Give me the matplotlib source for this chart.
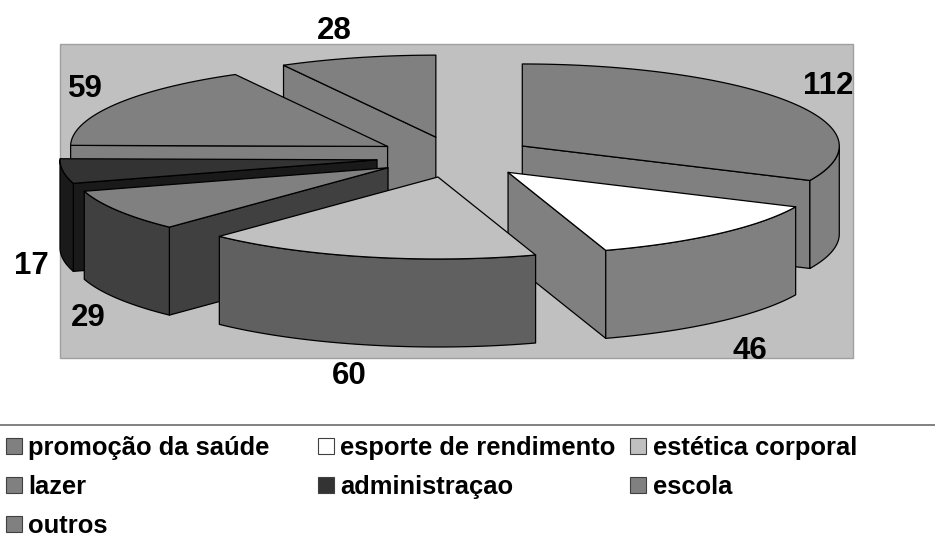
"""Exploded 3D-look pie chart with a legend below, drawn on a pixel-sized canvas."""
import numpy as np
import matplotlib
matplotlib.use("Agg")
import matplotlib.pyplot as plt
from matplotlib.patches import Polygon, Rectangle

WIDTH, HEIGHT = 935, 543

categories = ["promoção da saúde", "esporte de rendimento", "estética corporal",
              "lazer", "administraçao", "escola", "outros"]
values = [112, 46, 60, 29, 17, 59, 28]

top_colors = ["#808080", "#ffffff", "#c0c0c0", "#808080", "#333333", "#808080", "#808080"]
side_colors = ["#808080", "#808080", "#606060", "#404040", "#1a1a1a", "#808080", "#808080"]
legend_colors = ["#808080", "#ffffff", "#c0c0c0", "#808080", "#333333", "#808080", "#808080"]

# where the value labels sit, same order as values
label_pos = [(828, 86), (750, 351), (349, 376), (88, 318), (31, 266), (85, 89), (334, 31)]

# pie geometry in pixels
CX, CY = 455.5, 157
RX, RY = 317, 82
EXPLODE = 0.25
DEPTH = 88
DRAW_ORDER = [6, 5, 0, 4, 3, 1, 2]

plt.rcParams["font.family"] = ["Liberation Sans", "DejaVu Sans"]

fig = plt.figure(figsize=(WIDTH / 100, HEIGHT / 100), dpi=100, facecolor="white")
ax = fig.add_axes([0, 0, 1, 1])
ax.set_xlim(0, WIDTH)
ax.set_ylim(HEIGHT, 0)
ax.axis("off")

ax.add_patch(Rectangle((60, 44), 793, 314, facecolor="#c0c0c0", edgecolor="#a0a0a0", linewidth=1))


def arc(x0, y0, a0, a1):
    t = np.radians(np.linspace(a0, a1, 80))
    return np.column_stack([x0 + RX * np.sin(t), y0 - RY * np.cos(t)])


def drop(points):
    return points + np.array([0, DEPTH])


def draw_slice(start, end, top_color, side_color, z):
    mid = np.radians((start + end) / 2)
    x0 = CX + EXPLODE * RX * np.sin(mid)
    y0 = CY - EXPLODE * RY * np.cos(mid)
    apex = np.array([[x0, y0]])
    kw = dict(edgecolor="black", linewidth=0.9, joinstyle="round", zorder=z)

    # radial side walls, only the ones facing the viewer
    if start > 180:
        edge = np.vstack([apex, arc(x0, y0, start, start)[:1]])
        ax.add_patch(Polygon(np.vstack([edge, drop(edge)[::-1]]), facecolor=side_color, **kw))
    if end < 180:
        edge = np.vstack([apex, arc(x0, y0, end, end)[:1]])
        ax.add_patch(Polygon(np.vstack([edge, drop(edge)[::-1]]), facecolor=side_color, **kw))

    # outer curved wall
    a0, a1 = max(start, 90), min(end, 270)
    if a0 < a1:
        rim = arc(x0, y0, a0, a1)
        ax.add_patch(Polygon(np.vstack([rim, drop(rim)[::-1]]), facecolor=side_color, **kw))

    ax.add_patch(Polygon(np.vstack([apex, arc(x0, y0, start, end)]), facecolor=top_color, **kw))


angles = np.concatenate([[0], np.cumsum(values)]) / sum(values) * 360
for i, idx in enumerate(DRAW_ORDER):
    draw_slice(angles[idx], angles[idx + 1], top_colors[idx], side_colors[idx], 2 + i)

for val, (x, y) in zip(values, label_pos):
    ax.text(x, y, str(val), ha="center", va="center", fontsize=22.5, fontweight="bold",
            color="black", zorder=20)

# legend
ax.plot([0, WIDTH], [425, 425], color="#808080", linewidth=1.4, zorder=1)
swatch_x = [5.5, 317.5, 630]
text_x = [28, 340, 653]
row_base = [455, 494, 533]
for i, (name, color) in enumerate(zip(categories, legend_colors)):
    col = i % 3
    y = row_base[i // 3]
    ax.add_patch(Rectangle((swatch_x[col], y - 17.5), 16, 16, facecolor=color, edgecolor="#404040", linewidth=0.8))
    ax.text(text_x[col], y, name, ha="left", va="baseline", fontsize=18.4, fontweight="bold", color="black")

fig.savefig("out.png", dpi=100, facecolor="white")
